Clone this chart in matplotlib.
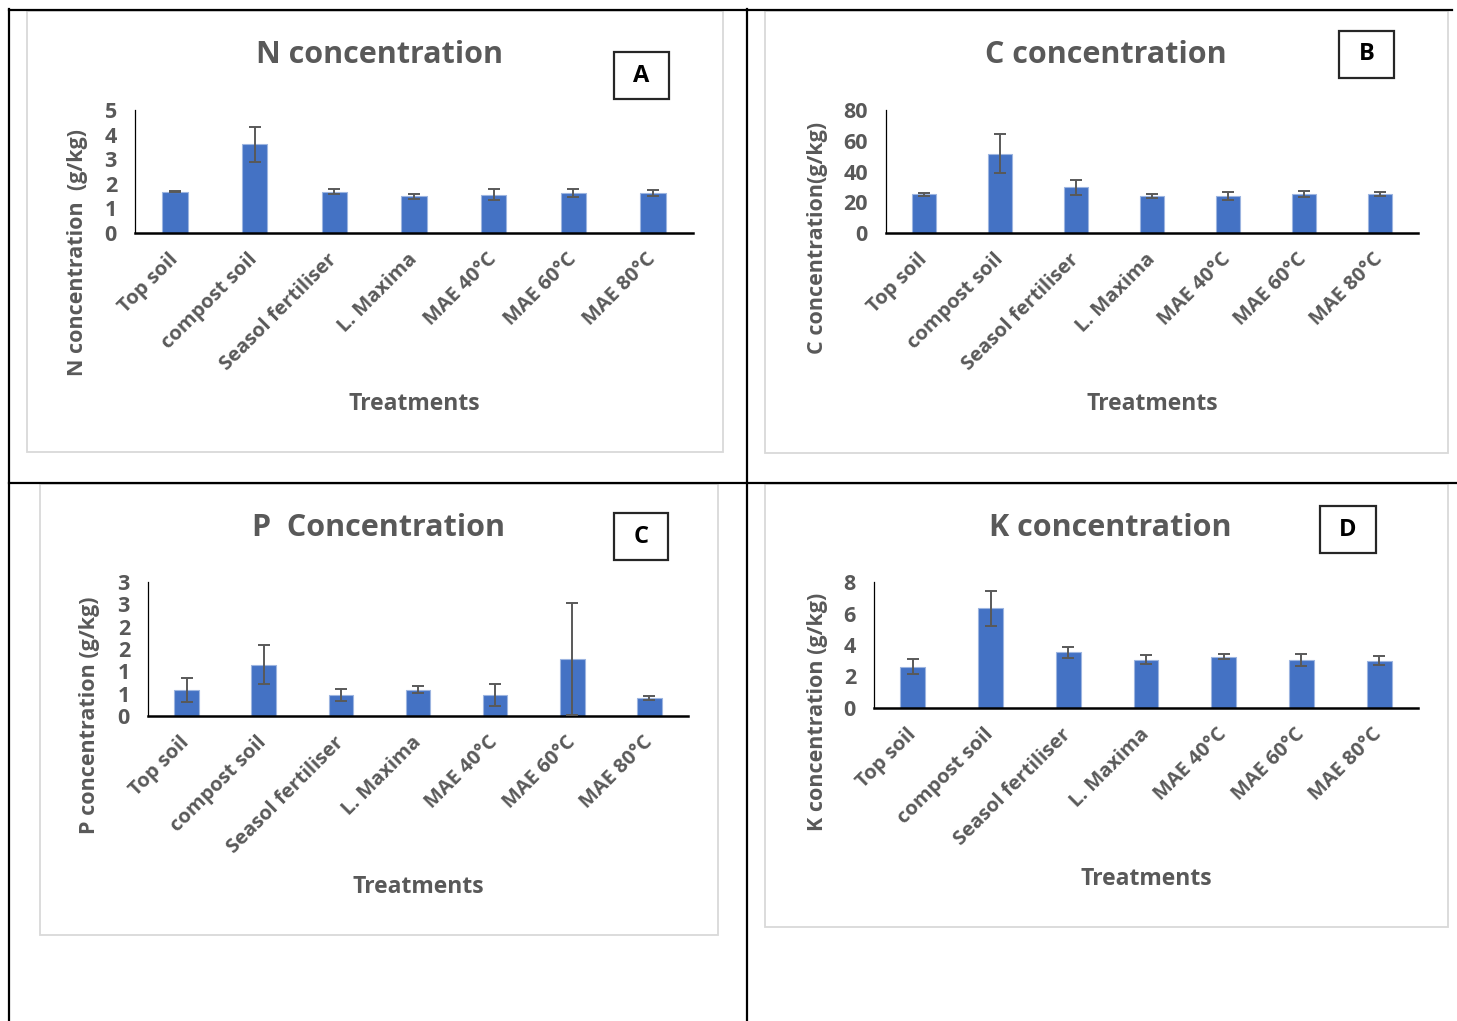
import matplotlib
matplotlib.use('Agg')
import matplotlib.pyplot as plt
from matplotlib.lines import Line2D
from matplotlib.patches import Rectangle
from matplotlib.ticker import FixedLocator, FixedFormatter

plt.rcParams['font.family'] = ['Open Sans', 'DejaVu Sans']
plt.rcParams['font.weight'] = 'bold'

W, H = 1457, 1021

treatments = ['Top soil', 'compost soil', 'Seasol fertiliser', 'L. Maxima',
              'MAE 40°C', 'MAE 60°C', 'MAE 80°C']

n_vals = [1.68, 3.60, 1.68, 1.49, 1.56, 1.63, 1.63]
n_err = [0.02, 0.70, 0.10, 0.11, 0.22, 0.17, 0.13]
c_vals = [25.1, 51.7, 29.7, 24.0, 24.0, 25.5, 25.5]
c_err = [1.2, 13.0, 4.7, 1.3, 2.4, 1.8, 1.4]
p_vals = [0.59, 1.15, 0.47, 0.59, 0.47, 1.27, 0.40]
p_err = [0.27, 0.43, 0.13, 0.075, 0.24, 1.25, 0.04]
k_vals = [2.62, 6.33, 3.53, 3.07, 3.26, 3.05, 3.00]
k_err = [0.47, 1.13, 0.36, 0.28, 0.18, 0.41, 0.30]

n_ticks = [0, 1, 2, 3, 4, 5]
n_tick_labels = ['0', '1', '2', '3', '4', '5']
c_ticks = [0, 20, 40, 60, 80]
c_tick_labels = ['0', '20', '40', '60', '80']
p_ticks = [0, 0.5, 1, 1.5, 2, 2.5, 3]
p_tick_labels = ['0', '1', '1', '2', '2', '3', '3']
k_ticks = [0, 2, 4, 6, 8]
k_tick_labels = ['0', '2', '4', '6', '8']

titles = ['N concentration', 'C concentration', 'P  Concentration', 'K concentration']
ylabels = ['N concentration  (g/kg)', 'C concentration(g/kg)',
           'P concentration (g/kg)', 'K concentration (g/kg)']
letters = ['A', 'B', 'C', 'D']
xlabel = 'Treatments'

TEXT = '#595959'
BAR = '#4472C4'

fig = plt.figure(figsize=(W / 100, H / 100), dpi=100)


def fx(x):
    return x / W


def fy(y):
    return 1 - y / H


# layout in pixels
panels = [
    dict(vals=n_vals, err=n_err, ticks=n_ticks, tl=n_tick_labels, ymax=5,
         ax=(135, 693, 110, 233), title=(379, 55), ylab=(78, 252),
         xlab=(414, 404), box=(614, 669, 52, 99), frame=(27, 723, 11, 452)),
    dict(vals=c_vals, err=c_err, ticks=c_ticks, tl=c_tick_labels, ymax=80,
         ax=(886, 1418, 110, 233), title=(1106, 55), ylab=(818, 238),
         xlab=(1152, 404), box=(1339, 1394, 31, 78), frame=(765, 1448, 11, 453)),
    dict(vals=p_vals, err=p_err, ticks=p_ticks, tl=p_tick_labels, ymax=3,
         ax=(148, 688, 582, 716), title=(378, 528), ylab=(90, 715),
         xlab=(418, 887), box=(614, 668, 513, 560), frame=(40, 718, 484, 935)),
    dict(vals=k_vals, err=k_err, ticks=k_ticks, tl=k_tick_labels, ymax=8,
         ax=(874, 1418, 582, 708), title=(1110, 528), ylab=(818, 712),
         xlab=(1146, 879), box=(1320, 1376, 506, 553), frame=(765, 1448, 484, 927)),
]

# black table lines
for (x0, y0, x1, y1) in [(9, 10, 1452, 10), (9, 483, 1457, 483),
                         (9, 9, 9, 1021), (747, 9, 747, 1021)]:
    fig.add_artist(Line2D([fx(x0), fx(x1)], [fy(y0), fy(y1)], color='black',
                          lw=1.6, transform=fig.transFigure))

for i, p in enumerate(panels):
    l, r, t, b = p['frame']
    fig.add_artist(Rectangle((fx(l), fy(b)), fx(r - l), (b - t) / H,
                             transform=fig.transFigure, fill=False,
                             edgecolor='#D9D9D9', lw=1.3))
    l, r, t, b = p['ax']
    ax = fig.add_axes([fx(l), fy(b), fx(r - l), (b - t) / H])
    x = list(range(len(treatments)))
    ax.bar(x, p['vals'], width=0.32, color=BAR, edgecolor='#9DB5E0', lw=0.8, zorder=2)
    ax.errorbar(x, p['vals'], yerr=p['err'], fmt='none', ecolor='#595959',
                elinewidth=1.4, capsize=4.5, capthick=1.4, zorder=3)
    ax.set_xlim(-0.5, len(treatments) - 0.5)
    ax.set_ylim(0, p['ymax'])
    ax.yaxis.set_major_locator(FixedLocator(p['ticks']))
    ax.yaxis.set_major_formatter(FixedFormatter(p['tl']))
    ax.set_xticks(x)
    ax.set_xticklabels(treatments, rotation=45, ha='right', va='center',
                       rotation_mode='anchor', fontsize=14.5, color=TEXT,
                       fontweight='bold')
    ax.tick_params(axis='x', length=0, pad=17)
    ax.tick_params(axis='y', length=0, pad=13, labelsize=15.5, labelcolor=TEXT)
    for lab in ax.get_yticklabels():
        lab.set_fontweight('bold')
    for s in ['top', 'right']:
        ax.spines[s].set_visible(False)
    ax.spines['left'].set_color('#000000')
    ax.spines['left'].set_linewidth(0.9)
    ax.spines['bottom'].set_color('#000000')
    ax.spines['bottom'].set_linewidth(1.8)
    ax.set_facecolor('none')

    tx, ty = p['title']
    fig.text(fx(tx), fy(ty), titles[i], ha='center', va='center', fontsize=22,
             color=TEXT, fontweight='bold')
    yx, yy = p['ylab']
    fig.text(fx(yx), fy(yy), ylabels[i], ha='center', va='center', rotation=90,
             fontsize=15.5, color=TEXT, fontweight='bold')
    xx, xy = p['xlab']
    fig.text(fx(xx), fy(xy), xlabel, ha='center', va='center', fontsize=16.5,
             color=TEXT, fontweight='bold')
    bl, br, bt, bb = p['box']
    fig.add_artist(Rectangle((fx(bl), fy(bb)), fx(br - bl), (bb - bt) / H,
                             transform=fig.transFigure, fill=False,
                             edgecolor='#262626', lw=1.6))
    fig.text(fx((bl + br) / 2), fy((bt + bb) / 2), letters[i], ha='center',
             va='center', fontsize=17, color='black', fontweight='bold')

fig.savefig('out.png', dpi=100)
